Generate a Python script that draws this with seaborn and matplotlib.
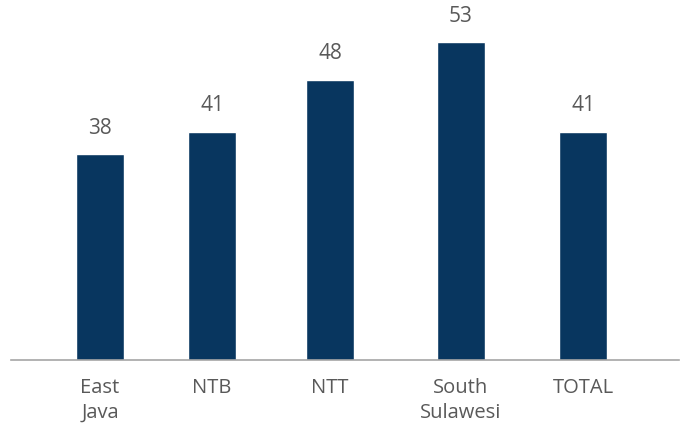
import matplotlib
matplotlib.use("Agg")
import matplotlib.pyplot as plt
import seaborn as sns
import pandas as pd

# Data
regions = ["East\nJava", "NTB", "NTT", "South\nSulawesi", "TOTAL"]
values = [38, 41, 48, 53, 41]

# Horizontal slot of each bar along the axis
slots = [0.0, 0.928, 1.905, 2.99, 4.0]

df = pd.DataFrame({"slot": slots, "region": regions, "value": values})

sns.set_theme(style="white")
plt.rcParams["font.family"] = ["Open Sans", "DejaVu Sans"]

BAR = "#08365f"
TEXT = "#595959"

fig = plt.figure(figsize=(6.81, 4.25), dpi=100)
ax = fig.add_axes([11 / 681, 65 / 425, 668 / 681, 360 / 425])

sns.barplot(data=df, x="slot", y="value", native_scale=True,
            width=0.4 / 0.928, color=BAR, saturation=1, ax=ax)

ax.set_xlim(-0.737, 4.795)
ax.set_ylim(10.4, 10.4 + 360 / 7.46)

for s, v in zip(slots, values):
    ax.annotate(f"{v}", (s, v), xytext=(0, 11), textcoords="offset points",
                ha="center", va="bottom", fontsize=15, color=TEXT)

ax.set_xticks(slots)
ax.set_xticklabels(regions, fontsize=14.5, color=TEXT, linespacing=1.3)
ax.tick_params(axis="x", length=0, pad=13)
ax.set_yticks([])
ax.set_xlabel("")
ax.set_ylabel("")

for side in ["top", "left", "right"]:
    ax.spines[side].set_visible(False)
ax.spines["bottom"].set_color("#a6a6a6")
ax.spines["bottom"].set_linewidth(1.2)

fig.savefig("out.png", dpi=100)
